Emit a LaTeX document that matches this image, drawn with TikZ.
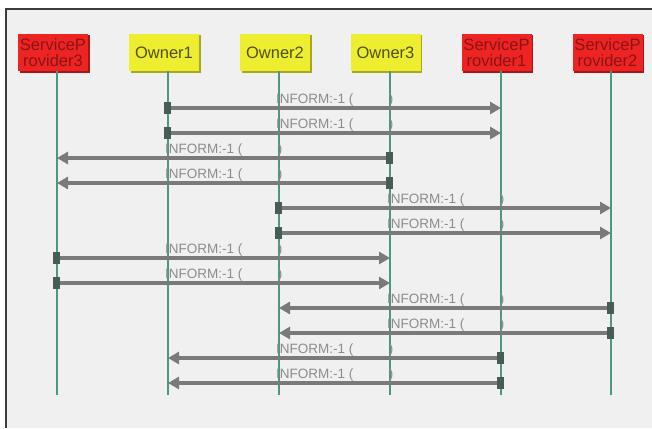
\documentclass[tikz,border=0pt]{standalone}
\usepackage{fontspec}
\setmainfont{Liberation Sans}
\usetikzlibrary{arrows.meta,shadows}
\definecolor{panel}{HTML}{F0F0F0}
\definecolor{frameline}{HTML}{3C3C3C}
\definecolor{spred}{HTML}{EE2424}
\definecolor{spredtext}{HTML}{8A1414}
\definecolor{spreddark}{HTML}{A01818}
\definecolor{ownyellow}{HTML}{EEEE30}
\definecolor{ownyellowtext}{HTML}{50500A}
\definecolor{ownyellowdark}{HTML}{A8A820}
\definecolor{lifeline}{HTML}{4E9684}
\definecolor{msgline}{HTML}{7A7A7A}
\definecolor{msgtext}{HTML}{8C8C8C}
\definecolor{startmark}{HTML}{465C55}
\tikzset{
  actor/.style={rectangle, minimum width=70pt, minimum height=37pt, inner sep=0pt,
    align=center, font=\fontsize{16.5}{16.5}\selectfont},
  provider/.style={actor, fill=spred, text=spredtext,
    drop shadow={shadow xshift=1.5pt, shadow yshift=-1.5pt, fill=spreddark, opacity=1}},
  owner/.style={actor, fill=ownyellow, text=ownyellowtext,
    drop shadow={shadow xshift=1.5pt, shadow yshift=-1.5pt, fill=ownyellowdark, opacity=1}},
  lifelinestyle/.style={draw=lifeline, line width=1.8pt},
  msg/.style={draw=msgline, line width=3.2pt, -{Triangle[length=11pt,width=12pt]}},
  startbox/.style={rectangle, fill=startmark, minimum width=7pt, minimum height=12pt, inner sep=0pt},
  msglabel/.style={font=\fontsize{13.5}{14}\selectfont, text=msgtext, inner sep=0pt, anchor=base west},
  msgclose/.style={font=\fontsize{13.5}{14}\selectfont, text=msgtext, inner sep=0pt, anchor=base}
}
\begin{document}
\begin{tikzpicture}[x=1pt,y=-1pt]
  \useasboundingbox (0,0) rectangle (652,428);
  % window background and frame
  \fill[white] (0,0) rectangle (652,428);
  \fill[panel] (6,9) rectangle (652,428);
  \draw[frameline, line width=2pt] (6,428) -- (6,9) -- (652,9);

  % lifeline positions (x)
  \coordinate (L1) at (57,0);
  \coordinate (L2) at (168,0);
  \coordinate (L3) at (279,0);
  \coordinate (L4) at (390,0);
  \coordinate (L5) at (501,0);
  \coordinate (L6) at (611,0);
  \coordinate (bottom) at (0,395);

  % participants
  \node[provider] (sp3) at (53,52.5) {ServiceP\\rovider3};
  \node[owner]    (o1)  at (164,52.5) {Owner1};
  \node[owner]    (o2)  at (275,52.5) {Owner2};
  \node[owner]    (o3)  at (385.5,52.5) {Owner3};
  \node[provider] (sp1) at (496.5,52.5) {ServiceP\\rovider1};
  \node[provider] (sp2) at (607.5,52.5) {ServiceP\\rovider2};

  % lifelines
  \foreach \i/\n in {1/sp3,2/o1,3/o2,4/o3,5/sp1,6/sp2}
    \draw[lifelinestyle] (L\i |- \n.south) -- (L\i |- bottom);

  % messages: row y / sender / receiver
  \foreach \y/\s/\r [count=\k] in {108/2/5,133/2/5,158/4/1,183/4/1,208/3/6,233/3/6,
                                  258/1/4,283/1/4,308/6/3,333/6/3,358/5/2,383/5/2} {
    \coordinate (row\k) at (0,\y);
    \pgfmathtruncatemacro{\lo}{min(\s,\r)}
    \pgfmathtruncatemacro{\la}{\lo+1}
    \pgfmathtruncatemacro{\lb}{\lo+2}
    \draw[msg] (L\s |- row\k) -- (L\r |- row\k);
    \node[startbox] (src\k) at ([xshift=-0.5pt]L\s |- row\k) {};
    \node[msglabel] (lab\k) at ([xshift=-3pt,yshift=4.5pt]L\la |- row\k) {INFORM:-1 (};
    \node[msgclose] (cls\k) at ([xshift=1pt,yshift=4.5pt]L\lb |- row\k) {)};
  }
\end{tikzpicture}
\end{document}
